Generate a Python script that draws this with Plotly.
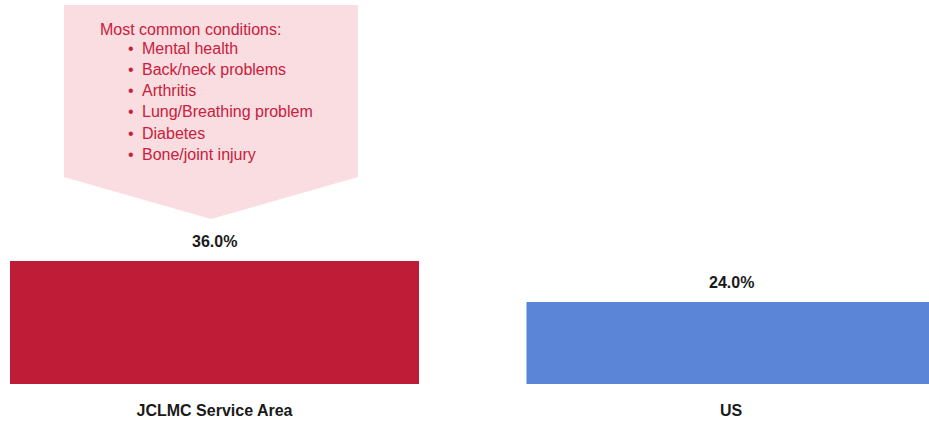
import plotly.graph_objects as go

categories = ["JCLMC Service Area", "US"]
values = [36.0, 24.0]
bar_colors = ["#BE1C37", "#5B85D6"]
callout_title = "Most common conditions:"
conditions = ["Mental health", "Back/neck problems", "Arthritis",
              "Lung/Breathing problem", "Diabetes", "Bone/joint injury"]

W, H = 929, 424
BASE = 384                # bar baseline in pixels
MB = H - BASE
plot_h = BASE
px_per_pct = 123 / 36.0
ymax = plot_h / px_per_pct
unit_px = 516.5
x0_px = 214.5
# plot area runs to the right edge of the figure, cropping the US bar there
xr = [-x0_px / unit_px, (W - x0_px) / unit_px]

fig = go.Figure()
fig.add_trace(go.Bar(
    x=categories, y=values, marker=dict(color=bar_colors, line=dict(width=0)),
    width=409 / unit_px, hoverinfo="skip", showlegend=False,
))

label_font = dict(family="Liberation Sans, Arial", size=16, color="#1a1a1a", weight="bold")
for c, v in zip(categories, values):
    fig.add_annotation(x=c, y=v, text=f"{v:.1f}%", showarrow=False,
                       yanchor="bottom", yshift=9, font=label_font)

def px_to_paper(x, y):
    return x / W, (plot_h - y) / plot_h

pts = [(64, 5), (358, 5), (358, 177), (211, 219), (64, 177)]
path = ""
for i, (x, y) in enumerate(pts):
    px_, py_ = px_to_paper(x, y)
    path += ("M" if i == 0 else "L") + f"{px_:.5f},{py_:.5f} "
path += "Z"
fig.add_shape(type="path", path=path, xref="paper", yref="paper",
              fillcolor="#F9DDE0", line=dict(width=0), layer="below")

txt_font = dict(family="Liberation Sans, Arial", size=16, color="#C8203D")
tx, ty = px_to_paper(98, 29)
fig.add_annotation(x=tx, y=ty, xref="paper", yref="paper", text=callout_title,
                   showarrow=False, xanchor="left", yanchor="middle", font=txt_font)
for i, cond in enumerate(conditions):
    yy = 49 + i * 21
    bx, by = px_to_paper(126, yy)
    fig.add_annotation(x=bx, y=by, xref="paper", yref="paper", text="•",
                       showarrow=False, xanchor="left", yanchor="middle", font=txt_font)
    cx, cy = px_to_paper(140, yy)
    fig.add_annotation(x=cx, y=cy, xref="paper", yref="paper", text=cond,
                       showarrow=False, xanchor="left", yanchor="middle", font=txt_font)

fig.update_layout(
    width=W, height=H, margin=dict(l=0, r=0, t=0, b=MB),
    paper_bgcolor="white", plot_bgcolor="white",
    xaxis=dict(range=xr, showgrid=False, zeroline=False, showline=False,
               ticks="", tickfont=label_font, ticklabelstandoff=15),
    yaxis=dict(range=[0, ymax], visible=False),
)

fig.write_html(
    "out.html",
    config={"displayModeBar": False},
    post_script="document.body.style.margin='0';document.body.style.overflow='hidden';",
)
